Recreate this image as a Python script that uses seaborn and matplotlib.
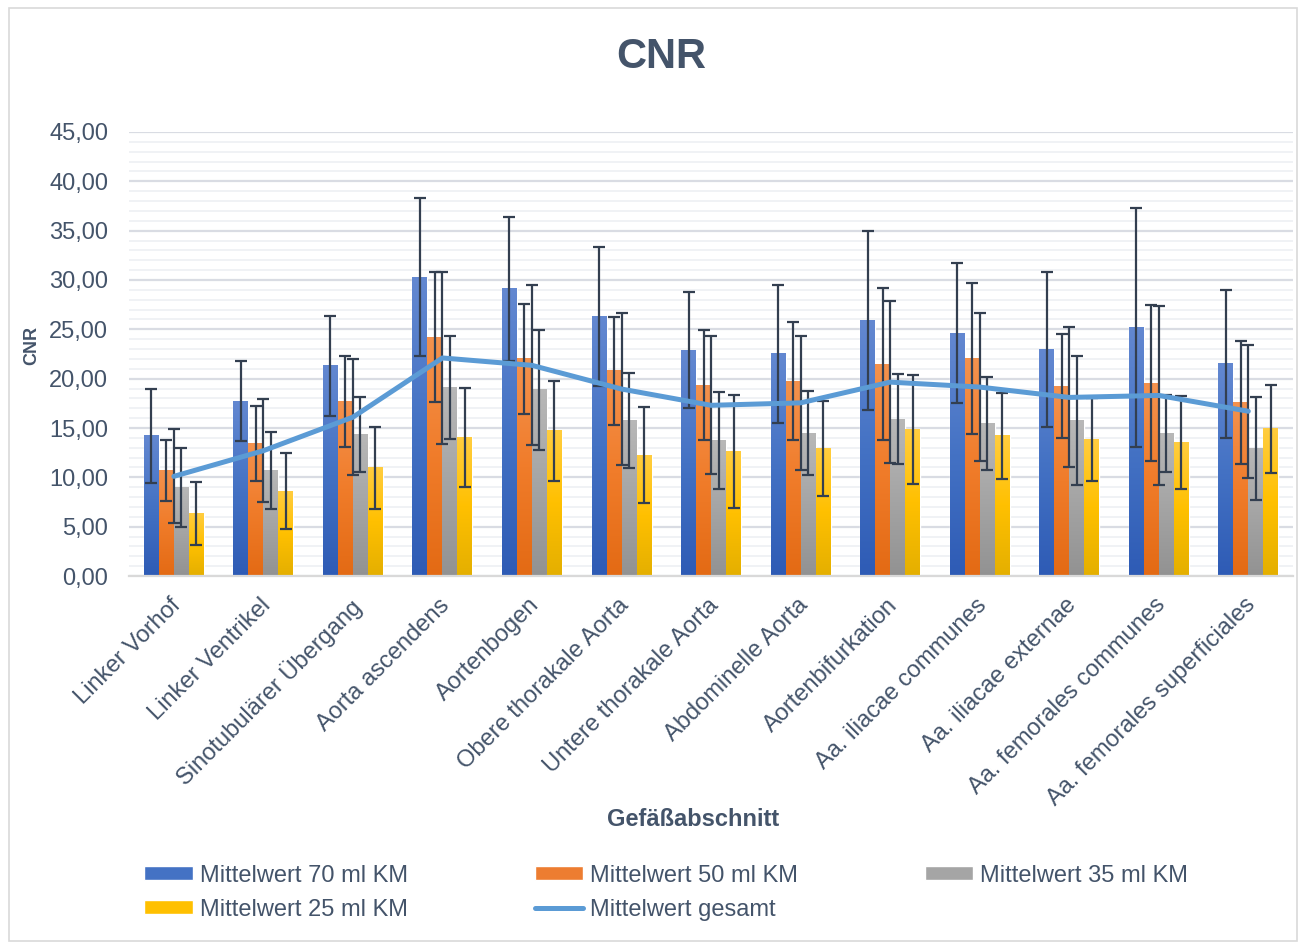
import numpy as np
import pandas as pd
import matplotlib.pyplot as plt
import matplotlib.transforms as mtransforms
from matplotlib.patches import Rectangle
from matplotlib.colors import LinearSegmentedColormap
from matplotlib.ticker import MultipleLocator, FuncFormatter
import seaborn as sns

# ---- data ----
categories = ["Linker Vorhof", "Linker Ventrikel", "Sinotubulärer Übergang",
              "Aorta ascendens", "Aortenbogen", "Obere thorakale Aorta",
              "Untere thorakale Aorta", "Abdominelle Aorta", "Aortenbifurkation",
              "Aa. iliacae communes", "Aa. iliacae externae",
              "Aa. femorales communes", "Aa. femorales superficiales"]

series = ["Mittelwert 70 ml KM", "Mittelwert 50 ml KM",
          "Mittelwert 35 ml KM", "Mittelwert 25 ml KM"]

mw70 = [14.2, 17.7, 21.3, 30.3, 29.1, 26.3, 22.9, 22.5, 25.9, 24.6, 23.0, 25.2, 21.5]
sd70 = [4.8, 4.05, 5.05, 8.0, 7.3, 7.0, 5.85, 6.95, 9.1, 7.1, 7.85, 12.1, 7.5]
mw50 = [10.7, 13.45, 17.7, 24.2, 22.0, 20.8, 19.35, 19.75, 21.45, 22.0, 19.25, 19.55, 17.6]
sd50 = [3.1, 3.8, 4.6, 6.6, 5.6, 5.5, 5.6, 5.95, 7.7, 7.65, 5.3, 7.9, 6.25]
mw35 = [9.0, 10.7, 14.35, 19.1, 18.85, 15.75, 13.7, 14.45, 15.9, 15.45, 15.75, 14.45, 12.9]
sd35 = [4.0, 3.9, 3.8, 5.2, 6.05, 4.8, 4.9, 4.25, 4.55, 4.7, 6.5, 3.9, 5.2]
mw25 = [6.35, 8.6, 10.95, 14.05, 14.7, 12.25, 12.6, 12.9, 14.85, 14.2, 13.8, 13.55, 14.9]
sd25 = [3.2, 3.85, 4.2, 5.0, 5.1, 4.9, 5.7, 4.8, 5.5, 4.35, 4.2, 4.7, 4.5]
gesamt = [10.1, 12.7, 16.1, 22.1, 21.35, 18.95, 17.3, 17.55, 19.65, 19.15, 18.1, 18.3, 16.7]
sd_gesamt = [4.75, 5.2, 5.9, 8.75, 8.1, 7.7, 7.0, 6.8, 8.2, 7.5, 7.1, 9.1, 6.75]

colors = ["#4472C4", "#ED7D31", "#A5A5A5", "#FFC000"]
# Excel-like vertical gradients (top, middle, bottom)
gradients = [["#6388D1", "#4472C4", "#2E5BB5"],
             ["#F4924E", "#F07C2A", "#E36A14"],
             ["#B8B8B8", "#A5A5A5", "#929292"],
             ["#FFCD40", "#FFC000", "#E4AF00"]]
LINE_COL = "#5B9BD5"
ERR_COL = "#333F50"
TXT = "#44546A"

df = pd.DataFrame({
    "abschnitt": categories * 4,
    "serie": np.repeat(series, len(categories)),
    "cnr": mw70 + mw50 + mw35 + mw25,
})

sns.set_style("white")
plt.rcParams['font.family'] = ['Liberation Sans', 'DejaVu Sans']

fig = plt.figure(figsize=(13.01, 9.44), dpi=100)
ax = fig.add_axes([0.0992, 0.3898, 0.8947, 0.4704])

sns.barplot(data=df, x="abschnitt", y="cnr", hue="serie", palette=colors,
            width=0.67, errorbar=None, saturation=1, ax=ax, zorder=2)

# gradient fill laid over each bar
grad = np.linspace(0, 1, 256).reshape(-1, 1)
for cont, gcols in zip(ax.containers, gradients):
    cmap = LinearSegmentedColormap.from_list("g", gcols)
    for b in cont:
        x0 = b.get_x()
        ax.imshow(grad, cmap=cmap, aspect="auto", origin="upper",
                  extent=(x0, x0 + b.get_width(), 0, b.get_height()),
                  zorder=2.1, interpolation="bilinear")

# error bars on the bars
for cont, sd in zip(ax.containers, [sd70, sd50, sd35, sd25]):
    xs = [b.get_x() + b.get_width() / 2 for b in cont]
    ys = [b.get_height() for b in cont]
    ax.errorbar(xs, ys, yerr=sd, fmt="none", ecolor=ERR_COL, elinewidth=1.6,
                capsize=4, capthick=1.6, zorder=3)

# overall mean line
xpos = np.arange(len(categories))
ax.errorbar(xpos, gesamt, yerr=sd_gesamt, fmt="none", ecolor=ERR_COL,
            elinewidth=1.6, capsize=4, capthick=1.6, zorder=4)
sns.lineplot(x=xpos, y=gesamt, color=LINE_COL, linewidth=3.6, ax=ax,
             label="Mittelwert gesamt", zorder=5)

# axes styling
ax.set_xlim(-0.5, len(categories) - 0.5)
ax.set_ylim(0, 45)
ax.yaxis.set_major_locator(MultipleLocator(5))
ax.yaxis.set_minor_locator(MultipleLocator(1))
ax.yaxis.set_major_formatter(FuncFormatter(lambda v, p: f"{v:.2f}".replace(".", ",")))
ax.set_axisbelow(True)
ax.grid(False)
ax.grid(which="major", axis="y", color="#D9DCE3", linewidth=1.6)
ax.grid(which="minor", axis="y", color="#EEF0F4", linewidth=1.2)
for s in ["top", "right", "left"]:
    ax.spines[s].set_visible(False)
ax.spines["bottom"].set_color("#D9D9D9")
ax.spines["bottom"].set_linewidth(1.6)

ax.tick_params(axis="both", which="both", length=0, labelsize=17, labelcolor=TXT)
ax.tick_params(axis="y", pad=15)
ax.tick_params(axis="x", pad=13)

offset = mtransforms.ScaledTranslation(-4 / 100, 0, fig.dpi_scale_trans)
for lab in ax.get_xticklabels():
    lab.set_rotation(45)
    lab.set_ha("right")
    lab.set_va("top")
    lab.set_rotation_mode("anchor")
    lab.set_transform(lab.get_transform() + offset)

ax.set_xlabel("Gefäßabschnitt", fontsize=17, weight="bold", color=TXT)
ax.xaxis.set_label_coords(0.4845, -0.522)
ax.set_ylabel("CNR", fontsize=13, weight="bold", color=TXT)
ax.yaxis.set_label_coords(-0.076, 0.52)

fig.text(0.508, 0.9396, "CNR", ha="center", va="center", fontsize=30,
         weight="bold", color=TXT)

# legend: rows 70/50/35 then 25/gesamt
handles, labels = ax.get_legend_handles_labels()
ax.legend_.remove()
order = [0, 3, 1, 4, 2]
fig.legend([handles[i] for i in order], [labels[i] for i in order], ncol=3,
           loc="upper left", bbox_to_anchor=(0.111, 0.084), frameon=False,
           fontsize=17, handlelength=2.06, handleheight=0.55, handletextpad=0.3,
           columnspacing=5.35, labelspacing=0.5, labelcolor=TXT,
           borderpad=0, borderaxespad=0)

fig.patches.append(Rectangle((0.007, 0.003), 0.99, 0.988, transform=fig.transFigure,
                             fill=False, edgecolor="#D9D9D9", linewidth=1.2))

fig.savefig("out.png", dpi=100)
